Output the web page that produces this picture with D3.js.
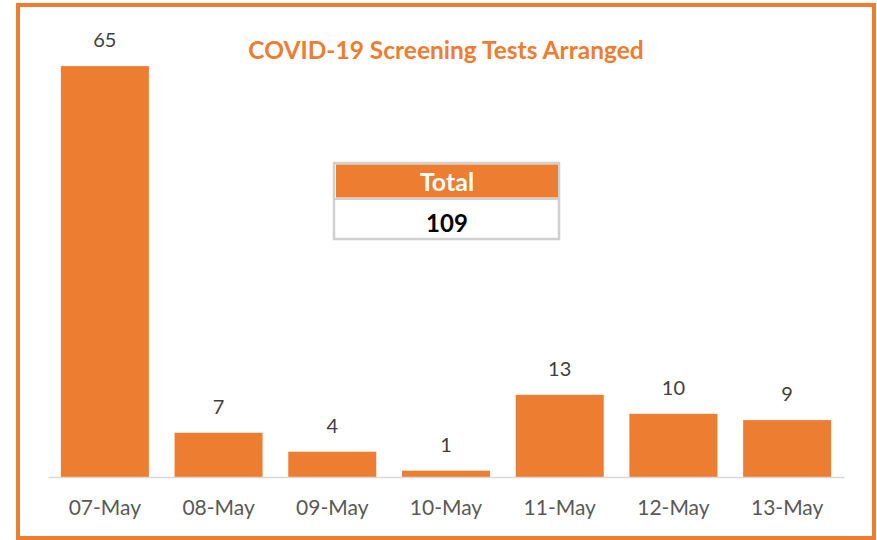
<!DOCTYPE html>
<html>
<head>
<meta charset="utf-8">
<script src="https://cdn.jsdelivr.net/npm/d3@7"></script>
<style>
  body { margin: 0; background: #fff; }
  svg { display: block; font-family: Lato, "Open Sans", sans-serif; }
</style>
</head>
<body>
<svg id="chart" width="877" height="540"></svg>
<script>
const days = ['07-May', '08-May', '09-May', '10-May', '11-May', '12-May', '13-May']
const tests = [65, 7, 4, 1, 13, 10, 9]
const totalLabel = 'Total'
const total = d3.sum(tests)

const orange = '#ED7D31'
const svg = d3.select('#chart')

// outer frame
svg.append('rect')
  .attr('x', 18).attr('y', 5)
  .attr('width', 856).attr('height', 533)
  .attr('fill', '#fff')
  .attr('stroke', orange)
  .attr('stroke-width', 4)

const x = d3.scaleBand()
  .domain(days)
  .range([48, 844])
  .paddingInner(0.226)
  .paddingOuter(0.113)

const y = d3.scaleLinear()
  .domain([0, 70])
  .range([477, 34.5])

// bars
svg.append('g')
  .selectAll('rect')
  .data(tests)
  .join('rect')
  .attr('x', (d, i) => x(days[i]))
  .attr('y', d => y(d))
  .attr('width', x.bandwidth())
  .attr('height', d => y(0) - y(d))
  .attr('fill', orange)

// value labels
svg.append('g')
  .selectAll('text')
  .data(tests)
  .join('text')
  .attr('x', (d, i) => x(days[i]) + x.bandwidth() / 2)
  .attr('y', d => y(d) - 19)
  .attr('text-anchor', 'middle')
  .attr('font-size', 20)
  .attr('fill', '#404040')
  .text(d => d)

// x axis
const xAxis = svg.append('g')
  .attr('transform', 'translate(0,' + y(0) + ')')
  .call(d3.axisBottom(x).tickSize(0).tickPadding(0))
xAxis.select('.domain').attr('stroke', '#D9D9D9').attr('stroke-width', 1.5)
xAxis.selectAll('text')
  .attr('dy', null)
  .attr('y', 38)
  .attr('font-size', 21)
  .attr('font-family', 'Lato, sans-serif')
  .attr('fill', '#595959')

// title
svg.append('text')
  .attr('x', 446).attr('y', 59)
  .attr('text-anchor', 'middle')
  .attr('font-size', 24.5)
  .attr('font-weight', 'bold')
  .attr('fill', orange)
  .text('COVID-19 Screening Tests Arranged')

// total box
const box = svg.append('g')
box.append('rect')
  .attr('x', 334).attr('y', 163)
  .attr('width', 225).attr('height', 76)
  .attr('fill', '#fff')
  .attr('stroke', '#D0D0D0')
  .attr('stroke-width', 2.5)
box.append('rect')
  .attr('x', 336).attr('y', 164.5)
  .attr('width', 222).attr('height', 33)
  .attr('fill', orange)
box.append('line')
  .attr('x1', 334).attr('x2', 559)
  .attr('y1', 199).attr('y2', 199)
  .attr('stroke', '#D0D0D0')
  .attr('stroke-width', 2)
box.append('text')
  .attr('x', 447).attr('y', 191)
  .attr('text-anchor', 'middle')
  .attr('font-size', 25)
  .attr('font-weight', 'bold')
  .attr('fill', '#fff')
  .text(totalLabel)
box.append('text')
  .attr('x', 447).attr('y', 232)
  .attr('text-anchor', 'middle')
  .attr('font-size', 24)
  .attr('font-weight', 'bold')
  .attr('fill', '#000')
  .text(total)
</script>
</body>
</html>
